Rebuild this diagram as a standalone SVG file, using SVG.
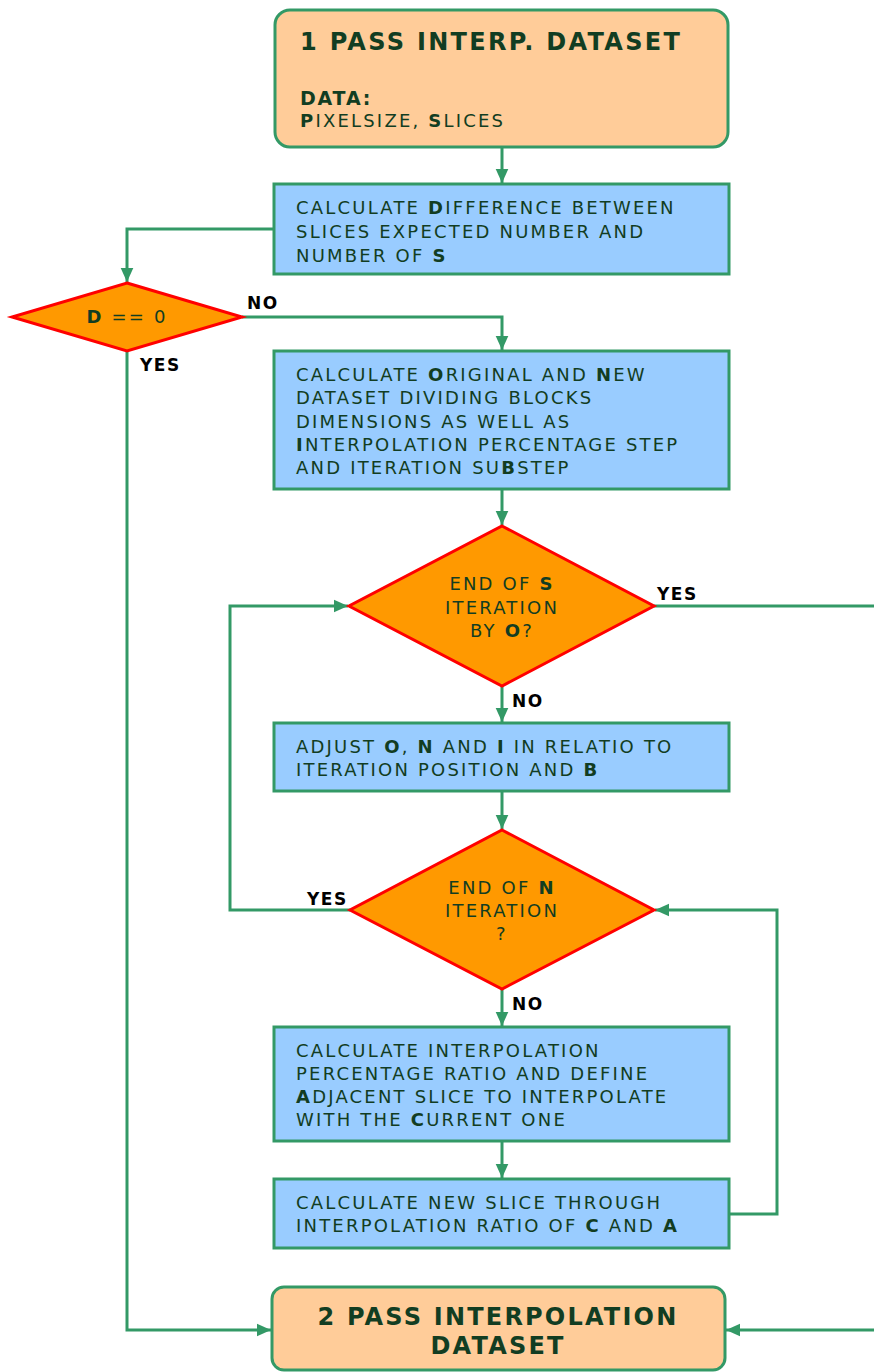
<svg xmlns="http://www.w3.org/2000/svg" width="874" height="1372" viewBox="0 0 874 1372">
<style>
.term{fill:#FFCC99;stroke:#339966;stroke-width:3}
.proc{fill:#99CCFF;stroke:#339966;stroke-width:3}
.dec{fill:#FF9900;stroke:#FF0000;stroke-width:3}
.t{font-family:"DejaVu Sans",Verdana,sans-serif;font-size:18px;fill:#123d22;letter-spacing:2.2px}
.c{text-anchor:middle}
.b{font-weight:bold}
.h{font-family:"DejaVu Sans",Verdana,sans-serif;font-weight:bold;fill:#123d22}
.lbl{font-family:"DejaVu Sans",Verdana,sans-serif;font-weight:bold;font-size:17px;fill:#000;letter-spacing:1.5px}
.conn{fill:none;stroke:#339966;stroke-width:3}
</style>
<defs>
<marker id="ah" viewBox="0 0 10 10" refX="10" refY="5" markerWidth="14" markerHeight="14" markerUnits="userSpaceOnUse" orient="auto">
<path d="M0,0.5 L10,5 L0,9.5 z" fill="#339966"/>
</marker>
</defs>
<rect width="874" height="1372" fill="#fff"/>
<g id="connectors">
<path class="conn" d="M502,147 V183" marker-end="url(#ah)"/>
<path class="conn" d="M274,229 H127 V282" marker-end="url(#ah)"/>
<path class="conn" d="M242,317 H502 V350" marker-end="url(#ah)"/>
<path class="conn" d="M127,351 V1330 H271" marker-end="url(#ah)"/>
<path class="conn" d="M502,489 V525" marker-end="url(#ah)"/>
<path class="conn" d="M654,606 H890 V1330 H726" marker-end="url(#ah)"/>
<path class="conn" d="M502,686 V722" marker-end="url(#ah)"/>
<path class="conn" d="M502,791 V829" marker-end="url(#ah)"/>
<path class="conn" d="M350,910 H230 V606 H348" marker-end="url(#ah)"/>
<path class="conn" d="M502,989 V1026" marker-end="url(#ah)"/>
<path class="conn" d="M502,1141 V1178" marker-end="url(#ah)"/>
<path class="conn" d="M729,1214 H777 V910 H655" marker-end="url(#ah)"/>
<text class="lbl" x="247" y="309">NO</text>
<text class="lbl" x="140" y="371">YES</text>
<text class="lbl" x="657" y="600">YES</text>
<text class="lbl" x="512" y="707">NO</text>
<text class="lbl" x="307" y="905">YES</text>
<text class="lbl" x="512" y="1010">NO</text>
</g>
<g id="start">
<rect class="term" x="275" y="10" width="453" height="137" rx="15"/>
<text class="h" x="300" y="50" font-size="24" letter-spacing="2.3">1 PASS INTERP. DATASET</text>
<text class="h" x="300" y="105" font-size="19" letter-spacing="1.8">DATA:</text>
<text class="t" x="300" y="127"><tspan class="b">P</tspan>IXELSIZE, <tspan class="b">S</tspan>LICES</text>
</g>
<g id="calcD">
<rect class="proc" x="274" y="184" width="455" height="90"/>
<text class="t" x="296" y="214">CALCULATE <tspan class="b">D</tspan>IFFERENCE BETWEEN</text>
<text class="t" x="296" y="238">SLICES EXPECTED NUMBER AND</text>
<text class="t" x="296" y="262">NUMBER OF <tspan class="b">S</tspan></text>
</g>
<g id="decD">
<polygon class="dec" points="127,283 242,317 127,351 12,317"/>
<text class="t c" x="127" y="323"><tspan class="b">D</tspan> == 0</text>
</g>
<g id="calcON">
<rect class="proc" x="274" y="351" width="455" height="138"/>
<text class="t" x="296" y="381">CALCULATE <tspan class="b">O</tspan>RIGINAL AND <tspan class="b">N</tspan>EW</text>
<text class="t" x="296" y="404">DATASET DIVIDING BLOCKS</text>
<text class="t" x="296" y="428">DIMENSIONS AS WELL AS</text>
<text class="t" x="296" y="451"><tspan class="b">I</tspan>NTERPOLATION PERCENTAGE STEP</text>
<text class="t" x="296" y="474">AND ITERATION SU<tspan class="b">B</tspan>STEP</text>
</g>
<g id="decS">
<polygon class="dec" points="502,526 654,606 502,686 349,606"/>
<text class="t c" x="502" y="590">END OF <tspan class="b">S</tspan></text>
<text class="t c" x="502" y="614">ITERATION</text>
<text class="t c" x="502" y="637">BY <tspan class="b">O</tspan>?</text>
</g>
<g id="adjust">
<rect class="proc" x="274" y="723" width="455" height="68"/>
<text class="t" x="296" y="753">ADJUST <tspan class="b">O</tspan>, <tspan class="b">N</tspan> AND <tspan class="b">I</tspan> IN RELATIO TO</text>
<text class="t" x="296" y="776">ITERATION POSITION AND <tspan class="b">B</tspan></text>
</g>
<g id="decN">
<polygon class="dec" points="502,830 654,910 502,989 350,910"/>
<text class="t c" x="502" y="894">END OF <tspan class="b">N</tspan></text>
<text class="t c" x="502" y="917">ITERATION</text>
<text class="t c" x="502" y="940">?</text>
</g>
<g id="calcRatio">
<rect class="proc" x="274" y="1027" width="455" height="114"/>
<text class="t" x="296" y="1057">CALCULATE INTERPOLATION</text>
<text class="t" x="296" y="1080">PERCENTAGE RATIO AND DEFINE</text>
<text class="t" x="296" y="1103"><tspan class="b">A</tspan>DJACENT SLICE TO INTERPOLATE</text>
<text class="t" x="296" y="1126">WITH THE <tspan class="b">C</tspan>URRENT ONE</text>
</g>
<g id="calcNew">
<rect class="proc" x="274" y="1179" width="455" height="69"/>
<text class="t" x="296" y="1209">CALCULATE NEW SLICE THROUGH</text>
<text class="t" x="296" y="1232">INTERPOLATION RATIO OF <tspan class="b">C</tspan> AND <tspan class="b">A</tspan></text>
</g>
<g id="end">
<rect class="term" x="272" y="1287" width="453" height="83" rx="12"/>
<text class="h c" x="498" y="1325" font-size="24" letter-spacing="2.2">2 PASS INTERPOLATION</text>
<text class="h c" x="498" y="1354" font-size="24" letter-spacing="2.2">DATASET</text>
</g>
</svg>
